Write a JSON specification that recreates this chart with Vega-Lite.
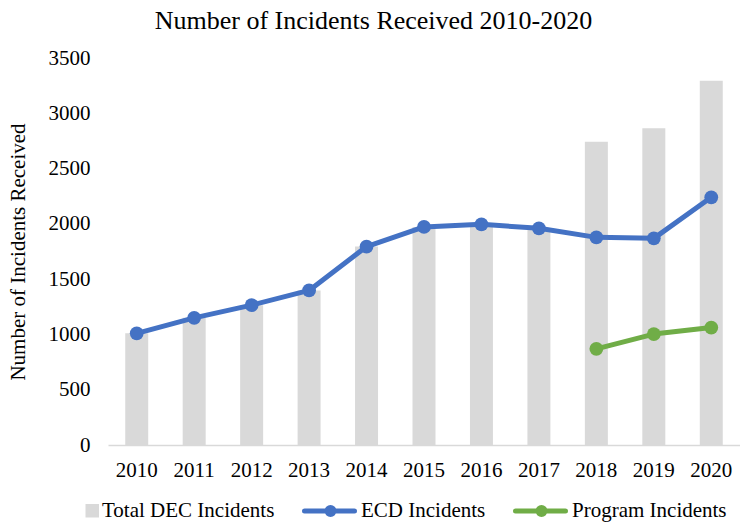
{
  "$schema": "https://vega.github.io/schema/vega-lite/v6.json",
  "width": 632,
  "height": 387,
  "autosize": {"type": "none"},
  "padding": {"left": 108, "top": 58, "right": 0, "bottom": 77},
  "background": "white",
  "title": {
    "text": "Number of Incidents Received 2010-2020",
    "font": "Liberation Serif",
    "fontSize": 26,
    "fontWeight": "normal",
    "color": "black",
    "anchor": "middle",
    "frame": "bounds",
    "offset": 13
  },
  "config": {
    "view": {"stroke": null},
    "font": "Liberation Serif",
    "axis": {"labelFont": "Liberation Serif", "titleFont": "Liberation Serif"},
    "legend": {"labelFont": "Liberation Serif"}
  },
  "data": {
    "values": [
      {"year": "2010", "series": "Total DEC Incidents", "value": 1010},
      {"year": "2011", "series": "Total DEC Incidents", "value": 1150},
      {"year": "2012", "series": "Total DEC Incidents", "value": 1265},
      {"year": "2013", "series": "Total DEC Incidents", "value": 1398},
      {"year": "2014", "series": "Total DEC Incidents", "value": 1795},
      {"year": "2015", "series": "Total DEC Incidents", "value": 1972},
      {"year": "2016", "series": "Total DEC Incidents", "value": 1996},
      {"year": "2017", "series": "Total DEC Incidents", "value": 1960},
      {"year": "2018", "series": "Total DEC Incidents", "value": 2743},
      {"year": "2019", "series": "Total DEC Incidents", "value": 2864},
      {"year": "2020", "series": "Total DEC Incidents", "value": 3295},
      {"year": "2010", "series": "ECD Incidents", "value": 1010},
      {"year": "2011", "series": "ECD Incidents", "value": 1150},
      {"year": "2012", "series": "ECD Incidents", "value": 1265},
      {"year": "2013", "series": "ECD Incidents", "value": 1398},
      {"year": "2014", "series": "ECD Incidents", "value": 1795},
      {"year": "2015", "series": "ECD Incidents", "value": 1972},
      {"year": "2016", "series": "ECD Incidents", "value": 1996},
      {"year": "2017", "series": "ECD Incidents", "value": 1960},
      {"year": "2018", "series": "ECD Incidents", "value": 1878},
      {"year": "2019", "series": "ECD Incidents", "value": 1869},
      {"year": "2020", "series": "ECD Incidents", "value": 2240},
      {"year": "2018", "series": "Program Incidents", "value": 870},
      {"year": "2019", "series": "Program Incidents", "value": 1003},
      {"year": "2020", "series": "Program Incidents", "value": 1062}
    ]
  },
  "encoding": {
    "x": {
      "field": "year",
      "type": "ordinal",
      "scale": {"paddingInner": 0.6, "paddingOuter": 0.3},
      "axis": {
        "title": null,
        "labelAngle": 0,
        "labelFont": "Liberation Serif",
        "labelFontSize": 21,
        "labelColor": "black",
        "labelPadding": 14,
        "ticks": false,
        "domainColor": "#d9d9d9",
        "domainWidth": 1.5,
        "grid": false
      }
    },
    "y": {
      "field": "value",
      "type": "quantitative",
      "scale": {"domain": [0, 3500], "nice": false},
      "axis": {
        "title": "Number of Incidents Received",
        "titleFont": "Liberation Serif",
        "titleFontSize": 21,
        "titleFontWeight": "normal",
        "titleColor": "black",
        "titlePadding": 20,
        "values": [0, 500, 1000, 1500, 2000, 2500, 3000, 3500],
        "format": "d",
        "labelFont": "Liberation Serif",
        "labelFontSize": 21,
        "labelColor": "black",
        "labelPadding": 18,
        "domain": false,
        "ticks": false,
        "grid": false
      }
    },
    "color": {
      "field": "series",
      "type": "nominal",
      "scale": {
        "domain": ["Total DEC Incidents", "ECD Incidents", "Program Incidents"],
        "range": ["#d9d9d9", "#4472c4", "#70ad47"]
      },
      "legend": {
        "title": null,
        "orient": "none",
        "legendX": -27,
        "legendY": 442,
        "padding": 0,
        "direction": "horizontal",
        "columns": 3,
        "labelFont": "Liberation Serif",
        "labelFontSize": 21,
        "labelColor": "black",
        "labelOffset": 0,
        "labelLimit": 0,
        "columnPadding": 19,
        "encode": {
          "symbols": {
            "update": {
              "shape": {"signal": "datum.value === 'Total DEC Incidents' ? 'M-0.7,-0.85H1V0.85H-0.7Z' : 'M-9.2,0H0.8M-3.3,0A0.7,0.7,0,1,1,-4.7,0A0.7,0.7,0,1,1,-3.3,0Z'"},
              "stroke": {"signal": "datum.value === 'Total DEC Incidents' ? 'transparent' : scale('color', datum.value)"},
              "fill": {"scale": "color", "field": "value"},
              "strokeWidth": {"value": 5},
              "strokeCap": {"value": "round"},
              "size": {"value": 100},
              "opacity": {"value": 1},
              "fillOpacity": {"value": 1}
            }
          }
        }
      }
    }
  },
  "layer": [
    {
      "transform": [{"filter": "datum.series === 'Total DEC Incidents'"}],
      "mark": {"type": "bar"}
    },
    {
      "transform": [{"filter": "datum.series !== 'Total DEC Incidents'"}],
      "mark": {
        "type": "line",
        "strokeWidth": 5,
        "strokeCap": "round",
        "strokeJoin": "round",
        "point": {"filled": true, "size": 190, "opacity": 1}
      }
    }
  ]
}
